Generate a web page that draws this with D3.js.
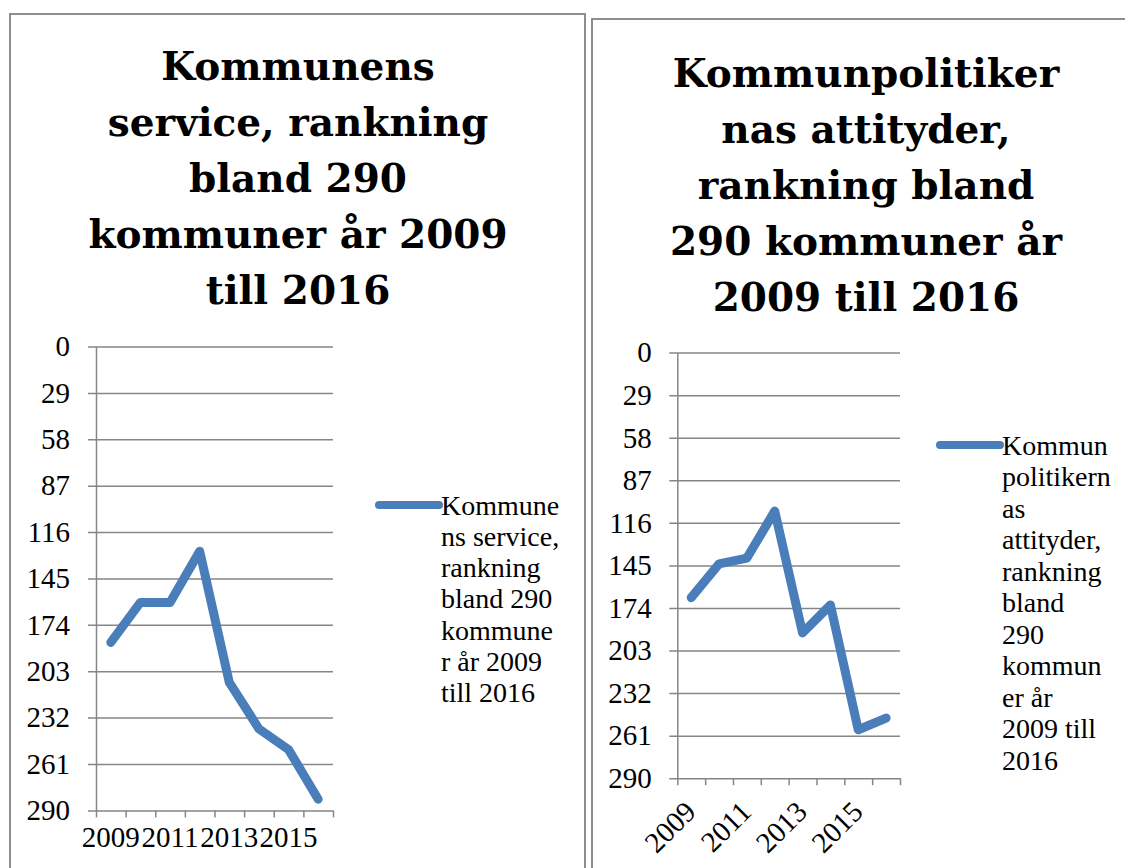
<!DOCTYPE html>
<html>
<head>
<meta charset="utf-8">
<script src="https://cdn.jsdelivr.net/npm/d3@7"></script>
<style>
  body { margin: 0; background: #fff; }
  text { font-family: "Liberation Serif", "DejaVu Serif", serif; fill: #000; }
</style>
</head>
<body>
<div id="chart"></div>
<script>
// data
let years = ["2009", "2010", "2011", "2012", "2013", "2014", "2015", "2016"];
let labelYears = ["2009", "2011", "2013", "2015"];
let yTicks = [0, 29, 58, 87, 116, 145, 174, 203, 232, 261, 290];

let serviceRank = [185, 160, 160, 128, 210, 239, 252, 283];
let politikerRank = [167, 144, 140, 108, 191, 172, 257, 249];

let serviceTitle = ["Kommunens", "service, rankning", "bland 290", "kommuner år 2009", "till 2016"];
let politikerTitle = ["Kommunpolitiker", "nas attityder,", "rankning bland", "290 kommuner år", "2009 till 2016"];

let serviceLegend = ["Kommune", "ns service,", "rankning", "bland 290", "kommune", "r år 2009", "till 2016"];
let politikerLegend = ["Kommun", "politikern", "as", "attityder,", "rankning", "bland", "290", "kommun", "er år", "2009 till", "2016"];

let width = 1125,
    height = 868,
    blue = "#4a7ebb",
    grid = "#868686";

let svg = d3.select("#chart")
    .append("svg")
    .attr("width", width)
    .attr("height", height);

function drawPanel(p) {
    let g = svg.append("g");

    // panel frame
    g.append("rect")
        .attr("x", p.frame[0])
        .attr("y", p.frame[1])
        .attr("width", p.frame[2])
        .attr("height", p.frame[3])
        .style("fill", "none")
        .style("stroke", "#8e8e8e")
        .style("stroke-width", 2);

    // title
    g.append("g").selectAll("text")
        .data(p.title)
        .enter()
        .append("text")
        .attr("x", p.titleX)
        .attr("y", (d, i) => p.titleY + i * 56)
        .text(d => d)
        .style("font-family", "DejaVu Serif")
        .style("text-anchor", "middle")
        .style("font-size", "39px")
        .style("font-weight", 700);

    let x = d3.scaleBand()
        .domain(years)
        .range([p.left, p.right]);

    let xi = d3.scaleLinear()
        .domain([0, years.length])
        .range([p.left, p.right]);

    let y = d3.scaleLinear()
        .domain([0, 290])
        .range([p.top, p.bottom]);

    // y axis + gridlines
    let yAxis = g.append("g")
        .attr("transform", "translate(" + p.left + ",0)")
        .call(d3.axisLeft(y)
            .tickValues(yTicks)
            .tickSizeInner(-(p.right - p.left))
            .tickSizeOuter(0)
            .tickPadding(p.labelPad));
    yAxis.select(".domain").style("stroke", grid).style("stroke-width", 1.5);
    yAxis.selectAll(".tick line")
        .attr("x1", -8)
        .style("stroke", grid)
        .style("stroke-width", 1.5);
    yAxis.selectAll(".tick text")
        .style("font-size", "29px")
        .style("font-family", "Liberation Serif")
        .attr("fill", "#000");

    // x axis tick marks between categories
    let xTicks = g.append("g")
        .attr("transform", "translate(0," + p.bottom + ")")
        .call(d3.axisBottom(xi).ticks(years.length).tickSize(7).tickFormat(""));
    xTicks.select(".domain").remove();
    xTicks.selectAll(".tick line").style("stroke", grid).style("stroke-width", 1.5);

    // x labels
    let xLab = g.append("g")
        .attr("transform", "translate(0," + p.bottom + ")")
        .call(d3.axisBottom(x).tickValues(labelYears).tickSize(0).tickPadding(p.xPad));
    xLab.select(".domain").remove();
    xLab.selectAll(".tick text")
        .style("font-size", "29px")
        .style("font-family", "Liberation Serif")
        .attr("fill", "#000");
    if (p.rotate) {
        xLab.selectAll(".tick text")
            .attr("dy", "0.35em")
            .attr("y", 0)
            .attr("transform", "translate(-1," + (p.xPad + 6) + ") rotate(-45)")
            .style("text-anchor", "end");
    }

    // the series line
    let line = d3.line()
        .x((d, i) => x(years[i]) + x.bandwidth() / 2)
        .y(d => y(d));

    g.append("path")
        .datum(p.values)
        .attr("d", line)
        .style("fill", "none")
        .style("stroke", blue)
        .style("stroke-width", 9)
        .style("stroke-linejoin", "round")
        .style("stroke-linecap", "round");

    // legend
    g.append("line")
        .attr("x1", p.legendX - 62)
        .attr("x2", p.legendX - 2)
        .attr("y1", p.legendY)
        .attr("y2", p.legendY)
        .style("stroke", blue)
        .style("stroke-width", 8)
        .style("stroke-linecap", "round");

    g.append("g").selectAll("text")
        .data(p.legend)
        .enter()
        .append("text")
        .attr("x", p.legendX)
        .attr("y", (d, i) => p.legendY + i * p.legendStep)
        .attr("dy", "0.35em")
        .text(d => d)
        .style("font-size", "28px");
}

drawPanel({
    frame: [10, 14, 575, 900],
    title: serviceTitle,
    titleX: 298,
    titleY: 80,
    left: 96,
    right: 333,
    top: 346.5,
    bottom: 810.4,
    labelPad: 26,
    xPad: 16,
    rotate: false,
    values: serviceRank,
    legend: serviceLegend,
    legendX: 441,
    legendY: 505,
    legendStep: 31.2
});

drawPanel({
    frame: [592, 19, 600, 900],
    title: politikerTitle,
    titleX: 866,
    titleY: 87,
    left: 677.3,
    right: 900,
    top: 352.6,
    bottom: 778.2,
    labelPad: 25.5,
    xPad: 22,
    rotate: true,
    values: politikerRank,
    legend: politikerLegend,
    legendX: 1002,
    legendY: 445,
    legendStep: 31.5
});
</script>
</body>
</html>
